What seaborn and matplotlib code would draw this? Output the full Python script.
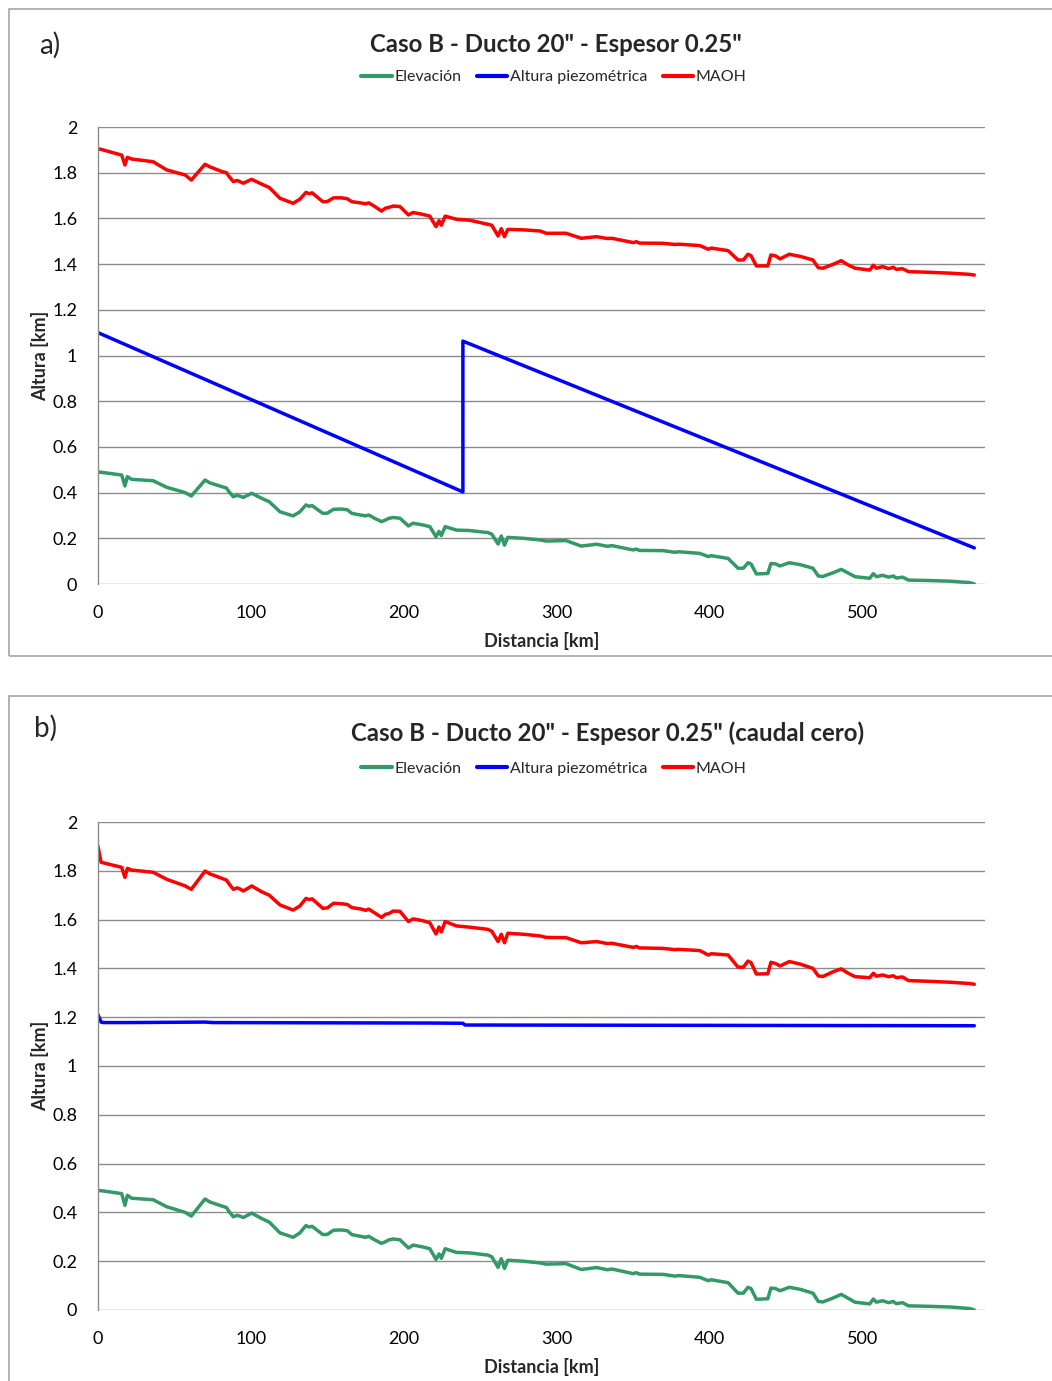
import matplotlib
matplotlib.use("Agg")
import matplotlib.pyplot as plt
import seaborn as sns
from matplotlib.ticker import FuncFormatter, MultipleLocator
from matplotlib.lines import Line2D
from matplotlib.patches import Rectangle

# Pipeline profile: distance along the route [km]
distance_km = [0, 2, 15.5, 17.6, 19.2, 22, 36, 45, 57, 61, 70, 73, 81, 84, 85.5, 88.5,
               91, 93, 95, 100.5, 107, 112, 119, 127.6, 132, 136, 138, 140, 147, 150,
               154, 159, 163, 166, 171.5, 175, 177, 181, 185.4, 188, 190, 193, 197.4,
               203, 206, 212, 217, 221, 223, 224.5, 227, 234.4, 243, 255, 257.5, 261.6,
               263.7, 265.8, 268, 278, 289, 293, 306, 316, 326, 333, 336, 350, 352, 354,
               369.5, 377, 380, 393.5, 399, 401, 412, 418.5, 422, 425, 427, 430.5, 438,
               440, 443, 446, 452, 459, 467.5, 471, 474, 481, 486, 490, 495, 504.6, 507,
               509, 513, 517, 520, 522, 526, 530, 544, 558, 570, 573]

# Ground elevation [km]
elevation_km = [0.49, 0.489, 0.477, 0.429, 0.47, 0.458, 0.452, 0.423, 0.40, 0.385, 0.455,
                0.443, 0.426, 0.42, 0.405, 0.382, 0.388, 0.384, 0.379, 0.397, 0.375, 0.36,
                0.316, 0.298, 0.316, 0.346, 0.340, 0.343, 0.309, 0.310, 0.327, 0.328, 0.325,
                0.309, 0.302, 0.298, 0.302, 0.287, 0.273, 0.28, 0.287, 0.291, 0.288, 0.254,
                0.266, 0.259, 0.251, 0.207, 0.23, 0.212, 0.251, 0.236, 0.234, 0.225, 0.218,
                0.175, 0.21, 0.17, 0.204, 0.2, 0.193, 0.188, 0.19, 0.166, 0.174, 0.165,
                0.168, 0.149, 0.153, 0.147, 0.146, 0.139, 0.141, 0.134, 0.12, 0.124, 0.112,
                0.069, 0.069, 0.093, 0.088, 0.044, 0.046, 0.09, 0.088, 0.079, 0.093, 0.085,
                0.069, 0.035, 0.033, 0.05, 0.064, 0.05, 0.032, 0.025, 0.045, 0.032, 0.038,
                0.03, 0.035, 0.026, 0.03, 0.017, 0.015, 0.012, 0.006, 0.0]

# Maximum allowable operating head, nominal flow case [km]
maoh_a_km = [1.905, 1.902, 1.877, 1.834, 1.867, 1.86, 1.848, 1.812, 1.79, 1.768, 1.837,
             1.826, 1.805, 1.80, 1.785, 1.761, 1.766, 1.76, 1.754, 1.771, 1.75, 1.735,
             1.688, 1.666, 1.684, 1.714, 1.708, 1.712, 1.673, 1.674, 1.69, 1.69, 1.686,
             1.673, 1.668, 1.664, 1.668, 1.652, 1.632, 1.645, 1.648, 1.654, 1.652, 1.615,
             1.626, 1.618, 1.61, 1.564, 1.59, 1.57, 1.61, 1.596, 1.592, 1.574, 1.57,
             1.523, 1.555, 1.52, 1.552, 1.55, 1.545, 1.535, 1.535, 1.513, 1.52, 1.512,
             1.513, 1.494, 1.498, 1.492, 1.491, 1.486, 1.487, 1.481, 1.465, 1.47, 1.459,
             1.418, 1.418, 1.443, 1.437, 1.392, 1.392, 1.44, 1.436, 1.423, 1.443, 1.434,
             1.418, 1.384, 1.382, 1.40, 1.415, 1.398, 1.382, 1.374, 1.395, 1.382, 1.389,
             1.38, 1.386, 1.377, 1.38, 1.367, 1.364, 1.36, 1.355, 1.352]

# Maximum allowable operating head, zero flow case [km]
maoh_b_km = [1.90, 1.835, 1.814, 1.773, 1.81, 1.803, 1.794, 1.765, 1.738, 1.724, 1.799,
             1.788, 1.769, 1.762, 1.748, 1.724, 1.73, 1.725, 1.717, 1.738, 1.714, 1.70,
             1.66, 1.639, 1.656, 1.687, 1.682, 1.685, 1.646, 1.648, 1.667, 1.665, 1.662,
             1.649, 1.644, 1.638, 1.643, 1.627, 1.609, 1.622, 1.624, 1.635, 1.634, 1.592,
             1.603, 1.596, 1.587, 1.541, 1.57, 1.55, 1.592, 1.574, 1.569, 1.56, 1.552,
             1.51, 1.54, 1.505, 1.544, 1.54, 1.533, 1.527, 1.526, 1.505, 1.51, 1.502,
             1.503, 1.486, 1.49, 1.484, 1.482, 1.477, 1.478, 1.473, 1.455, 1.46, 1.455,
             1.405, 1.405, 1.43, 1.424, 1.377, 1.378, 1.425, 1.42, 1.41, 1.428, 1.418,
             1.40, 1.369, 1.367, 1.387, 1.398, 1.382, 1.366, 1.362, 1.38, 1.368, 1.373,
             1.366, 1.37, 1.362, 1.365, 1.35, 1.347, 1.343, 1.338, 1.335]

# Hydraulic grade line, nominal flow (pump station at 238.6 km)
piezo_a_dist = [0, 238.6, 238.6, 573]
piezo_a_km = [1.10, 0.403, 1.063, 0.158]

# Hydraulic grade line, zero flow
piezo_b_dist = [0, 2, 3.5, 20, 70, 75, 220, 238.6, 240, 573]
piezo_b_km = [1.21, 1.18, 1.178, 1.178, 1.18, 1.178, 1.176, 1.175, 1.168, 1.165]

series_labels = ["Elevación", "Altura piezométrica", "MAOH"]
panel_titles = ['Caso B - Ducto 20" - Espesor 0.25"',
                'Caso B - Ducto 20" - Espesor 0.25" (caudal cero)']
panel_tags = ["a)", "b)"]

GREEN = "#339966"
BLUE = "#0000FF"
RED = "#FF0000"
GRID = "#8C8C8C"
FRAME = "#A6A6A6"

sns.set_style("white")
plt.rcParams["font.family"] = ["Lato", "DejaVu Sans"]

W, H = 1052, 1381
fig = plt.figure(figsize=(W / 100, H / 100), dpi=100)


def fx(px):
    return px / W


def fy(py):
    return 1 - py / H


def draw_panel(ax, maoh, pz_x, pz_y):
    lw = 2.5
    sns.lineplot(x=distance_km, y=elevation_km, ax=ax, color=GREEN, linewidth=lw,
                 estimator=None, sort=False, legend=False)
    sns.lineplot(x=pz_x, y=pz_y, ax=ax, color=BLUE, linewidth=lw,
                 estimator=None, sort=False, legend=False)
    sns.lineplot(x=distance_km, y=maoh, ax=ax, color=RED, linewidth=lw,
                 estimator=None, sort=False, legend=False)
    ax.set_xlim(0, 580)
    ax.set_ylim(0, 2)
    ax.yaxis.set_major_locator(MultipleLocator(0.2))
    ax.yaxis.set_major_formatter(FuncFormatter(lambda v, p: f"{v:g}"))
    ax.set_xticks([0, 100, 200, 300, 400, 500])
    ax.grid(axis="y", color=GRID, linewidth=1.0)
    ax.set_axisbelow(True)
    for s in ["top", "right", "bottom"]:
        ax.spines[s].set_visible(False)
    ax.spines["left"].set_color(GRID)
    ax.spines["left"].set_linewidth(1.0)
    ax.tick_params(axis="both", colors=GRID, labelcolor="black", labelsize=13,
                   length=5, width=1.0, direction="out")
    ax.tick_params(axis="x", pad=10)
    ax.tick_params(axis="y", pad=10)
    ax.set_xlabel("Distancia [km]", fontsize=13, fontweight="bold", labelpad=8)
    ax.set_ylabel("Altura [km]", fontsize=13, fontweight="bold", labelpad=2)


handles = [Line2D([], [], color=c, linewidth=3) for c in (GREEN, BLUE, RED)]

# Panel a
ax_a = fig.add_axes([fx(98), fy(584), fx(985) - fx(98), fy(127) - fy(584)])
draw_panel(ax_a, maoh_a_km, piezo_a_dist, piezo_a_km)
# Panel b
ax_b = fig.add_axes([fx(98), fy(1310), fx(985) - fx(98), fy(822) - fy(1310)])
draw_panel(ax_b, maoh_b_km, piezo_b_dist, piezo_b_km)

# Frames, titles, legends
for top, bottom, title, title_x, title_y, leg_y in [
        (9, 656, panel_titles[0], 556, 45, 77),
        (696, 1390, panel_titles[1], 608, 733, 769)]:
    fig.patches.append(Rectangle((fx(9), fy(bottom)), 1.2, fy(top) - fy(bottom),
                                 transform=fig.transFigure, fill=False,
                                 edgecolor=FRAME, linewidth=1.2))
    fig.text(fx(title_x), fy(title_y), title, ha="center", va="center",
             fontsize=17.3, fontweight="bold")
    fig.legend(handles, series_labels, loc="center", ncol=3,
               bbox_to_anchor=(fx(554), fy(leg_y)), frameon=False, fontsize=11.5,
               handlelength=1.9, handletextpad=0.15, columnspacing=1.0)

fig.text(fx(39), fy(45), panel_tags[0], ha="left", va="center", fontsize=20)
fig.text(fx(34), fy(728), panel_tags[1], ha="left", va="center", fontsize=20)

fig.savefig("out.png", dpi=100)
